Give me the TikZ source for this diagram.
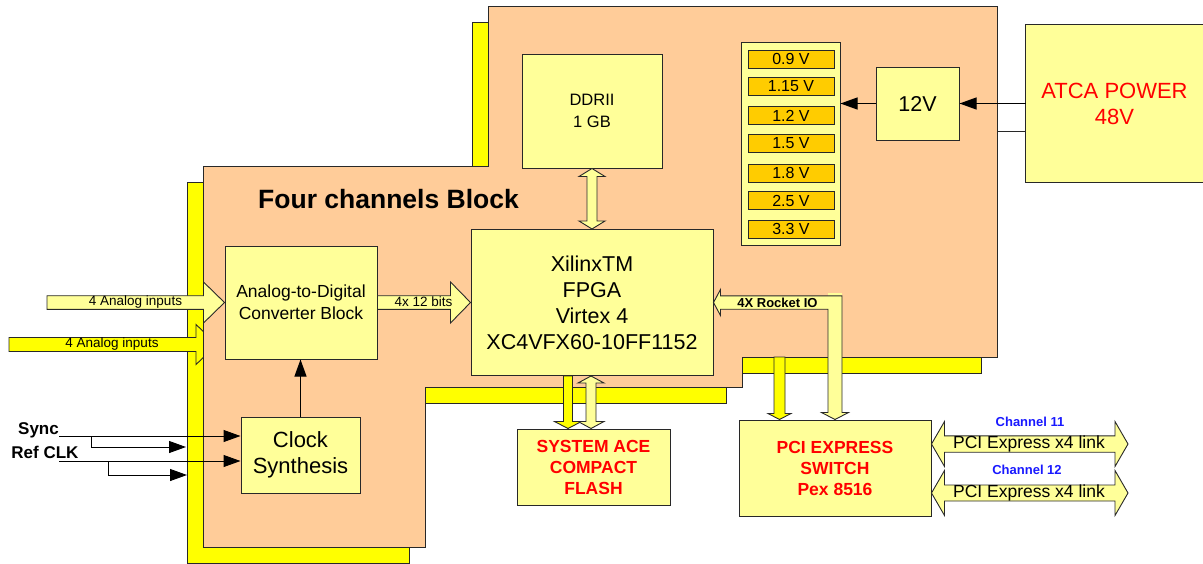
\documentclass[tikz,border=0pt]{standalone}
\usepackage{fontspec}
\setmainfont{Liberation Sans}
\usetikzlibrary{calc,arrows.meta}
\definecolor{salmon}{RGB}{255,204,153}
\definecolor{lyel}{RGB}{255,255,153}
\definecolor{byel}{RGB}{255,255,0}
\definecolor{vgold}{RGB}{255,204,0}
\definecolor{ored}{RGB}{255,0,0}
\definecolor{oblue}{RGB}{25,25,255}
\definecolor{edgec}{RGB}{40,40,40}
\newcommand{\myfs}[2]{\fontsize{#1}{#2}\selectfont}
% single arrow pointing right: style, tail, tip, shaft half, head half, head length
\newcommand{\HArr}[6]{\draw[#1] ($(#2)+(0,-#4)$) -- ($(#3)+(-#6,-#4)$) -- ($(#3)+(-#6,-#5)$) -- (#3) -- ($(#3)+(-#6,#5)$) -- ($(#3)+(-#6,#4)$) -- ($(#2)+(0,#4)$) -- cycle;}
% single arrow pointing down
\newcommand{\VArr}[6]{\draw[#1] ($(#2)+(-#4,0)$) -- ($(#3)+(-#4,-#6)$) -- ($(#3)+(-#5,-#6)$) -- (#3) -- ($(#3)+(#5,-#6)$) -- ($(#3)+(#4,-#6)$) -- ($(#2)+(#4,0)$) -- cycle;}
% double arrow horizontal: left tip, right tip
\newcommand{\HDArr}[6]{\draw[#1] (#2) -- ($(#2)+(#6,-#5)$) -- ($(#2)+(#6,-#4)$) -- ($(#3)+(-#6,-#4)$) -- ($(#3)+(-#6,-#5)$) -- (#3) -- ($(#3)+(-#6,#5)$) -- ($(#3)+(-#6,#4)$) -- ($(#2)+(#6,#4)$) -- ($(#2)+(#6,#5)$) -- cycle;}
% double arrow vertical: top tip, bottom tip
\newcommand{\VDArr}[6]{\draw[#1] (#2) -- ($(#2)+(#5,#6)$) -- ($(#2)+(#4,#6)$) -- ($(#3)+(#4,-#6)$) -- ($(#3)+(#5,-#6)$) -- (#3) -- ($(#3)+(-#5,-#6)$) -- ($(#3)+(-#4,-#6)$) -- ($(#2)+(-#4,#6)$) -- ($(#2)+(-#5,#6)$) -- cycle;}
\tikzset{
  box/.style={draw=edgec, fill=lyel, line width=1pt, inner sep=0pt, align=center},
  vbar/.style={draw=edgec, fill=vgold, line width=1pt, inner sep=0pt, minimum width=86pt, minimum height=18pt, font=\myfs{16}{18}},
  arr/.style={draw=black, line width=1pt, -{Triangle[length=17pt,width=12pt]}},
  lya/.style={draw=edgec, fill=lyel, line width=0.9pt},
  bya/.style={draw=edgec, fill=byel, line width=0.9pt},
  redtxt/.style={text=ored, font=\bfseries\myfs{17.5}{21}},
  small/.style={font=\myfs{13.5}{16}, inner sep=0pt},
}
\begin{document}
\begin{tikzpicture}[x=1pt,y=-1pt]
\useasboundingbox (0,0) rectangle (1203,563);
% shadow of board
\draw[bya] (472,22) -- (981,22) -- (981,373) -- (726,373) -- (726,403) -- (409,403) -- (409,563) -- (187,563) -- (187,182) -- (472,182) -- cycle;
% second analog input arrow (under board)
\coordinate (a2t) at (9,344.5);
\coordinate (a2h) at (217,344.5);
\HArr{bya}{a2t}{a2h}{7}{20}{21}
% board
\draw[draw=edgec, fill=salmon, line width=0.9pt] (488,6) -- (997,6) -- (997,357) -- (742,357) -- (742,387) -- (425,387) -- (425,547) -- (203,547) -- (203,166) -- (488,166) -- cycle;

% blocks
\node[box, minimum width=242pt, minimum height=146pt, font=\myfs{21.5}{26}] (fpga) at (592,302.5) {XilinxTM\\FPGA\\Virtex 4\\XC4VFX60-10FF1152};
\node[box, minimum width=152pt, minimum height=113pt, font=\myfs{17.5}{22}] (adc) at (301,302.5) {Analog-to-Digital\\Converter Block};
\node[box, minimum width=119pt, minimum height=76pt, font=\myfs{22}{26}] (clk) at (300.5,455) {Clock\\Synthesis};
\node[box, minimum width=140pt, minimum height=114pt, font=\myfs{16.5}{22}] (ddr) at (592,111) {DDRII\\1 GB};
\node[box, redtxt, minimum width=153pt, minimum height=76pt] (sace) at (593.5,467) {SYSTEM ACE\\COMPACT\\FLASH};
\node[box, redtxt, minimum width=192pt, minimum height=96pt] (pci) at (835,468) {PCI EXPRESS\\SWITCH\\Pex 8516};
\node[box, minimum width=99pt, minimum height=203pt] (panel) at (790.5,143.5) {};
\foreach \v/\yy [count=\i] in {0.9 V/59, 1.15 V/86.5, 1.2 V/115.5, 1.5 V/143.5, 1.8 V/173, 2.5 V/200.5, 3.3 V/229}
  \node[vbar] (bar\i) at (791,\yy) {\v};
\node[box, minimum width=83pt, minimum height=73pt, font=\myfs{21.5}{26}] (v12) at (917.5,103.5) {12V};
\node[fill=lyel, inner sep=0pt, minimum width=177pt, minimum height=157pt, align=center, text=ored, font=\myfs{22}{26}] (atca) at (1114.5,103.5) {ATCA POWER\\48V};
\draw[draw=edgec, line width=1pt] (atca.north east) -- (atca.north west) -- (atca.south west) -- (atca.south east);

\node[font=\bfseries\myfs{26.5}{30}] (title) at (388.5,199) {Four channels Block};

% block arrows
\coordinate (a1t) at (47,302.5);
\HArr{lya}{a1t}{adc.west}{6.8}{20.5}{21}
\node[small] (lab1) at (135.5,302.5) {4 Analog inputs};
\node[small] (lab2) at (112,344.5) {4 Analog inputs};
\HArr{lya}{adc.east}{fpga.west}{6.8}{20.5}{20}
\node[small] (lab3) at (423.5,301.5) {4x 12 bits};
\VDArr{lya}{ddr.south}{fpga.north}{5}{13}{8}
\coordinate (sa1) at ($(fpga.south)+(-24,0)$);
\coordinate (sa2) at (sa1 |- sace.north);
\VArr{bya}{sa1}{sa2}{4.5}{13.5}{7}
\coordinate (sb1) at ($(fpga.south)+(-1,0)$);
\coordinate (sb2) at (sb1 |- sace.north);
\VDArr{lya}{sb1}{sb2}{5}{13}{7}
\coordinate (pb1) at (779.5,357);
\coordinate (pb2) at (pb1 |- pci.north);
\VArr{bya}{pb1}{pb2}{5.5}{11.5}{6}
% Rocket IO L-shaped arrow
\coordinate (rT) at (fpga.east);
\coordinate (rV) at (pci.north);
\coordinate (rC) at (rV |- rT);
\fill[lyel] ($(rC)+(-7,-6.7)$) rectangle ($(rC)+(7,-10)$);
\draw[lya] (rT) -- ($(rT)+(7,-13)$) -- ($(rT)+(7,-6.7)$) -- ($(rC)+(7,-6.7)$) -- ($(rV)+(7,-7)$) -- ($(rV)+(13.5,-7)$) -- (rV) -- ($(rV)+(-13.5,-7)$) -- ($(rV)+(-7,-7)$) -- ($(rC)+(-7,6.7)$) -- ($(rT)+(7,6.7)$) -- ($(rT)+(7,13)$) -- cycle;
\node[font=\bfseries\myfs{13}{16}, inner sep=0pt] (lab4) at (777.5,302.5) {4X Rocket IO};
% PCI express links
\coordinate (l1a) at ($(pci.north east)+(0,24.5)$);
\coordinate (l1b) at ($(l1a)+(196.5,0)$);
\HDArr{lya}{l1a}{l1b}{8.2}{22.5}{13}
\coordinate (l2a) at ($(pci.north east)+(0,73.5)$);
\coordinate (l2b) at ($(l2a)+(196.5,0)$);
\HDArr{lya}{l2a}{l2b}{8}{22.5}{13}
\node[font=\myfs{17.5}{20}, inner sep=0pt] (lk1) at (1029,443.5) {PCI Express x4 link};
\node[font=\myfs{17.5}{20}, inner sep=0pt] (lk2) at (1029,492.5) {PCI Express x4 link};
\node[font=\bfseries\myfs{13}{16}, text=oblue, inner sep=0pt] (ch11) at (1030,421.5) {Channel 11};
\node[font=\bfseries\myfs{13}{16}, text=oblue, inner sep=0pt] (ch12) at (1027,469.5) {Channel 12};

% power connections
\draw[arr] (atca.west) -- (v12.east);
\coordinate (pw) at (997,131);
\draw[draw=edgec, line width=1pt] (pw) -- (pw -| atca.west);
\draw[arr] (v12.west) -- (v12.west -| panel.east);

% clock
\draw[arr] (clk.north) -- (clk.north |- adc.south);
\node[font=\bfseries\myfs{17}{20}, inner sep=0pt] (sync) at (38.5,430) {Sync};
\node[font=\bfseries\myfs{17}{20}, inner sep=0pt] (refclk) at (45,452.5) {Ref CLK};
\coordinate (sy0) at (59,436);
\coordinate (sy1) at (91.7,436);
\coordinate (sy2) at (186,447);
\coordinate (rc0) at (59,461);
\coordinate (rc1) at (108.7,461);
\coordinate (rc2) at (187,475);
\draw[arr] (sy0) -- (sy0 -| clk.west);
\draw[arr] (sy1) |- (sy2);
\draw[arr] (rc0) -- (rc0 -| clk.west);
\draw[arr] (rc1) |- (rc2);
\end{tikzpicture}
\end{document}
